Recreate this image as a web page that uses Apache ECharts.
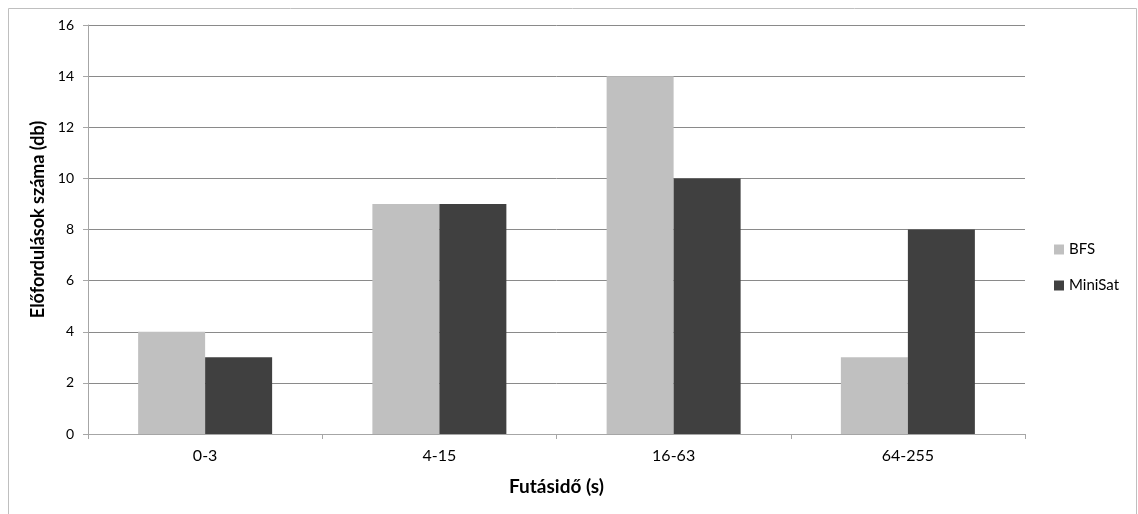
<!DOCTYPE html>
<html>
<head>
<meta charset="utf-8">
<script src="https://cdn.jsdelivr.net/npm/echarts@6/dist/echarts.min.js"></script>
<style>
  html, body { margin: 0; padding: 0; background: #fff; }
  #chart { width: 1138px; height: 514px; }
</style>
</head>
<body>
<div id="chart"></div>
<script>
// Runtime buckets (seconds) and occurrence counts per solver
const categories = ['0-3', '4-15', '16-63', '64-255'];
const bfsCounts = [4, 9, 14, 3];
const miniSatCounts = [3, 9, 10, 8];
const yTicks = { min: 0, max: 16, interval: 2 };

const FONT = 'Lato, "Open Sans", sans-serif';
const chart = echarts.init(document.getElementById('chart'), null, { renderer: 'canvas' });

chart.setOption({
  animation: false,
  backgroundColor: '#ffffff',
  graphic: [{
    type: 'rect',
    shape: { x: 8.5, y: 8.5, width: 1128, height: 530 },
    style: { fill: 'none', stroke: '#bfbfbf', lineWidth: 1 },
    silent: true
  }],
  grid: { left: 88, right: 113, top: 25, bottom: 80, containLabel: false },
  legend: {
    orient: 'vertical',
    left: 1049,
    top: 237,
    itemWidth: 10,
    itemHeight: 10,
    itemGap: 21,
    icon: 'rect',
    textStyle: { fontFamily: FONT, fontSize: 15, color: '#000' },
    data: ['BFS', 'MiniSat']
  },
  xAxis: {
    type: 'category',
    data: categories,
    name: 'Futásidő (s)',
    nameLocation: 'middle',
    nameGap: 43,
    nameTextStyle: { fontFamily: FONT, fontSize: 19, fontWeight: 'bold', color: '#000' },
    axisLine: { lineStyle: { color: '#a6a6a6', width: 1 } },
    axisTick: { show: true, alignWithLabel: false, length: 5, lineStyle: { color: '#a6a6a6' } },
    axisLabel: { fontFamily: FONT, fontSize: 16, color: '#000', margin: 14 }
  },
  yAxis: {
    type: 'value',
    min: yTicks.min,
    max: yTicks.max,
    interval: yTicks.interval,
    name: 'Előfordulások száma (db)',
    nameLocation: 'middle',
    nameGap: 34,
    nameTextStyle: { fontFamily: FONT, fontSize: 18, fontWeight: 'bold', color: '#000', padding: [0, 0, 0, 20] },
    axisLine: { show: true, lineStyle: { color: '#a6a6a6', width: 1 } },
    axisTick: { show: true, length: 5, lineStyle: { color: '#a6a6a6' } },
    axisLabel: { fontFamily: FONT, fontSize: 14, color: '#000', margin: 14 },
    splitLine: { show: true, lineStyle: { color: '#8a8a8a', width: 1 } }
  },
  series: [
    {
      name: 'BFS',
      type: 'bar',
      data: bfsCounts,
      barWidth: 67,
      barGap: '0%',
      itemStyle: { color: '#c0c0c0' }
    },
    {
      name: 'MiniSat',
      type: 'bar',
      data: miniSatCounts,
      barWidth: 67,
      barGap: '0%',
      itemStyle: { color: '#404040' }
    }
  ]
});
</script>
</body>
</html>
